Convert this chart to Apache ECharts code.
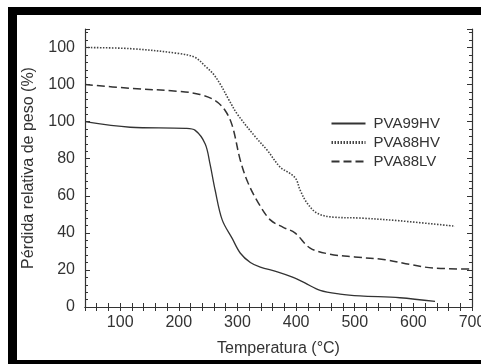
<!DOCTYPE html>
<html>
<head>
<meta charset="utf-8">
<script src="https://cdn.jsdelivr.net/npm/echarts@6/dist/echarts.min.js"></script>
<style>
  html, body { margin: 0; padding: 0; background: #fff; }
  #chart { width: 481px; height: 364px; }
</style>
</head>
<body>
<div id="chart"></div>
<script>
// series names and vertical offsets used in the figure (curves shifted up)
const seriesNames = ['PVA99HV', 'PVA88HV', 'PVA88LV']
const offsets = [0, 40, 20]

// [temperatura °C, pérdida relativa de peso %]
const pva99hv = [
  [40, 100], [117, 97], [211, 96.4], [228, 95.3], [245, 88], [253, 77.5],
  [262, 63], [274, 47], [291, 37], [305, 29], [322, 24], [339, 21.5],
  [368, 19], [395, 16], [415, 13], [441, 9], [475, 7], [509, 6],
  [577, 5], [637, 3]
]
const pva88hv = [
  [40, 100], [117, 99.4], [202, 96.7], [228, 94.6], [245, 90], [258, 86],
  [270, 80.6], [285, 72], [300, 64], [330, 52], [351, 44.5], [373, 35.4],
  [390, 32], [400, 29], [407, 23], [419, 16], [436, 10.6], [463, 8.5],
  [509, 8], [577, 6.5], [671, 3.6]
]
const pva88lv = [
  [40, 100], [117, 98], [202, 96.3], [236, 94.7], [262, 91.4], [279, 86],
  [291, 78], [305, 59], [318, 47], [335, 36.5], [356, 27], [378, 23],
  [398, 20], [424, 11.8], [458, 8.5], [500, 7], [552, 5.5], [594, 3],
  [634, 1], [700, 0.5]
]

const xTicks = [100, 200, 300, 400, 500, 600, 700]
const yTickValues = [0, 20, 40, 60, 80, 100, 120, 140]
const yTickLabels = ['0', '20', '40', '60', '80', '100', '100', '100']

const chart = echarts.init(document.getElementById('chart'))

const font = 'Liberation Sans, Arial, sans-serif'
const ink = '#333'

const shift = (arr, off) => arr.map(p => [p[0], p[1] + off])

const tickStyle = {
  axisLine: { show: true, lineStyle: { color: ink, width: 1.2 } },
  axisTick: { show: true, inside: true, length: 5, lineStyle: { color: ink } },
  minorTick: { show: true, splitNumber: 5, length: 3, lineStyle: { color: ink } },
  splitLine: { show: false }
}

const option = {
  backgroundColor: '#fff',
  animation: false,
  textStyle: { fontFamily: font },
  grid: { left: 85, right: 9, top: 29, bottom: 57, outerBoundsMode: 'none' },
  legend: {
    orient: 'vertical',
    left: 325,
    top: 111,
    itemWidth: 34,
    itemHeight: 14,
    itemGap: 4,
    itemStyle: { opacity: 0 },
    textStyle: { fontSize: 15, color: ink, fontFamily: font, padding: [0, 0, 0, 3] },
    data: [
      { name: seriesNames[0] },
      { name: seriesNames[1], lineStyle: { width: 3 } },
      { name: seriesNames[2] }
    ]
  },
  graphic: [
    { type: 'rect', shape: { x: 8, y: 7, width: 473, height: 8 }, style: { fill: '#000' } },
    { type: 'rect', shape: { x: 8, y: 7, width: 9, height: 357 }, style: { fill: '#000' } },
    { type: 'rect', shape: { x: 8, y: 360, width: 473, height: 4 }, style: { fill: '#000' } }
  ],
  xAxis: [
    Object.assign({
      type: 'value',
      min: 40,
      max: 700,
      interval: 20,
      name: 'Temperatura (°C)',
      nameLocation: 'middle',
      nameGap: 34,
      nameTextStyle: { fontSize: 16, color: ink, fontFamily: font },
      axisLabel: {
        color: ink, fontSize: 16, margin: 8, fontFamily: font,
        formatter: v => (xTicks.indexOf(v) >= 0 ? String(v) : '')
      }
    }, tickStyle, {
      axisTick: { show: true, inside: true, length: 4, lineStyle: { color: ink } },
      minorTick: { show: false }
    }),
    {
      type: 'value', position: 'top', min: 40, max: 700, interval: 20,
      axisLine: { show: true, lineStyle: { color: ink, width: 1.2 } },
      axisTick: { show: true, inside: true, length: 4, lineStyle: { color: ink } },
      axisLabel: { show: false },
      splitLine: { show: false }
    }
  ],
  yAxis: [
    Object.assign({
      type: 'value',
      min: 0,
      max: 150,
      interval: 20,
      name: 'Pérdida relativa de peso (%)',
      nameLocation: 'middle',
      nameGap: 48,
      nameTextStyle: { fontSize: 16, color: ink, fontFamily: font },
      axisLabel: {
        color: ink, fontSize: 16, margin: 10, fontFamily: font,
        formatter: v => {
          const i = yTickValues.indexOf(v)
          return i >= 0 ? yTickLabels[i] : ''
        }
      }
    }, tickStyle),
    Object.assign({
      type: 'value', position: 'right', min: 0, max: 150, interval: 20,
      axisLabel: { show: false }
    }, tickStyle)
  ],
  series: [
    {
      name: seriesNames[0], type: 'line', symbol: 'none', smooth: 0.35,
      data: shift(pva99hv, offsets[0]),
      lineStyle: { color: ink, width: 1.3, type: 'solid' },
      itemStyle: { color: ink }
    },
    {
      name: seriesNames[1], type: 'line', symbol: 'none', smooth: 0.35,
      data: shift(pva88hv, offsets[1]),
      lineStyle: { color: '#444', width: 1.6, type: [1.5, 1.5] },
      itemStyle: { color: '#444' }
    },
    {
      name: seriesNames[2], type: 'line', symbol: 'none', smooth: 0.35,
      data: shift(pva88lv, offsets[2]),
      lineStyle: { color: ink, width: 1.5, type: [8, 4] },
      itemStyle: { color: ink }
    }
  ]
}

chart.setOption(option)
</script>
</body>
</html>
